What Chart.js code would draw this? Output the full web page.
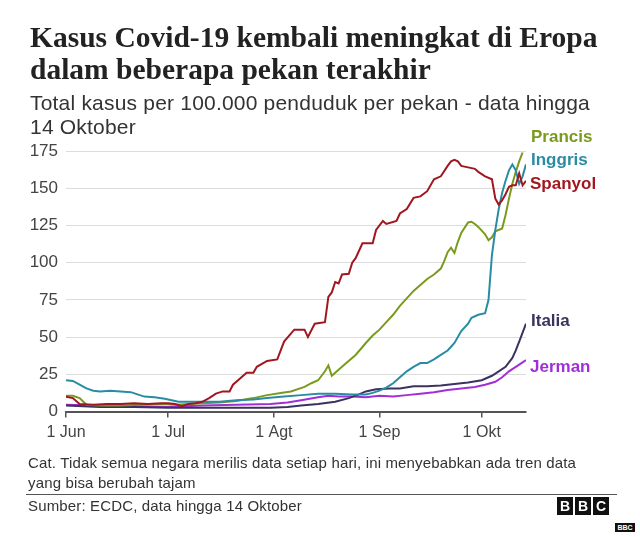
<!DOCTYPE html>
<html>
<head>
<meta charset="utf-8">
<script src="https://cdn.jsdelivr.net/npm/chart.js@4"></script>
<style>
  html, body { margin: 0; padding: 0; background: #fff; }
  #wrap { position: relative; width: 640px; height: 537px; overflow: hidden; font-family: "Liberation Sans", Arial, sans-serif; color: #222; }
  #chart { position: absolute; left: 0; top: 0; }
  .t { position: absolute; white-space: nowrap; }
  .title { left: 30px; font-family: "Liberation Serif", serif; font-weight: bold; font-size: 29.5px; color: #222; }
  .sub { left: 30px; font-size: 21px; letter-spacing: 0.2px; color: #333; }
  .lab { font-weight: bold; font-size: 17px; }
  .note { left: 28px; font-size: 15px; letter-spacing: 0.15px; color: #333; }
  .bbc { position: absolute; top: 497px; width: 16px; height: 18px; background: #111; color: #fff; font-weight: bold; font-size: 14px; text-align: center; line-height: 18px; }
</style>
</head>
<body>
<div id="wrap">
  <canvas id="chart" width="640" height="537"></canvas>
  <div class="t title" style="top:21px">Kasus Covid-19 kembali meningkat di Eropa</div>
  <div class="t title" style="top:53px">dalam beberapa pekan terakhir</div>
  <div class="t sub" style="top:91px">Total kasus per 100.000 penduduk per pekan - data hingga</div>
  <div class="t sub" style="top:115px">14 Oktober</div>

  <div class="t lab" style="left:531px;top:127px;color:#7a9a1e">Prancis</div>
  <div class="t lab" style="left:531px;top:150px;color:#2a8ca3">Inggris</div>
  <div class="t lab" style="left:530px;top:174px;color:#a0171f">Spanyol</div>
  <div class="t lab" style="left:531px;top:311px;color:#3c3260">Italia</div>
  <div class="t lab" style="left:530px;top:357px;color:#a12ed6">Jerman</div>

  <div class="t note" style="top:454px">Cat. Tidak semua negara merilis data setiap hari, ini menyebabkan ada tren data</div>
  <div class="t note" style="top:474px">yang bisa berubah tajam</div>
  <div style="position:absolute;left:26px;top:494px;width:591px;height:1px;background:#555"></div>
  <div class="t note" style="top:497px">Sumber: ECDC, data hingga 14 Oktober</div>
  <div class="bbc" style="left:557px">B</div>
  <div class="bbc" style="left:575px">B</div>
  <div class="bbc" style="left:593px">C</div>
  <div style="position:absolute;left:615px;top:523px;width:20px;height:9px;background:#111;color:#fff;font-size:7px;font-weight:bold;line-height:9px;text-align:center">BBC</div>
</div>

<script>
// days counted from 1 Jun (day 0) to 14 Okt (day 135)
const tickDays = [0, 30, 61, 92, 122];
const tickLabels = ['1 Jun', '1 Jul', '1 Agt', '1 Sep', '1 Okt'];

const spainDays = [0, 2, 4, 8, 12, 16, 20, 24, 28, 30, 32, 34, 36, 38, 40, 42, 44, 46, 48, 49, 51, 53, 55, 56, 59, 62, 64, 67, 70, 71, 73, 76, 77, 78, 79, 80, 81, 83, 84, 85, 87, 90, 91, 93, 94, 97, 98, 100, 102, 104, 106, 108, 110, 112, 113, 114, 115, 116, 118, 120, 121, 123, 125, 126, 127, 128, 129, 130, 131, 132, 133, 134, 135];
const spainVals = [10, 9, 5, 4.5, 5, 5, 5.5, 5, 5.5, 5.5, 5, 3.5, 5, 5.5, 6.5, 9, 12, 13.5, 13.5, 18, 22, 26, 26, 30, 34, 35, 47, 55, 55, 50, 59, 60, 77, 80, 87, 86, 92, 92.5, 100, 103, 113, 113, 122, 128, 126, 128, 133, 136, 143.5, 144.5, 148, 156, 158, 165, 168, 169, 168, 165, 164, 163, 161, 158, 156, 143, 139, 142, 146, 151, 152, 152, 160, 152, 155];

const franceDays = [0, 2, 4, 6, 10, 16, 22, 28, 32, 36, 40, 45, 50, 55, 59, 63, 66, 70, 72, 74, 76, 77, 78, 80, 82, 85, 88, 90, 92, 94, 96, 98, 100, 102, 104, 106, 108, 110, 111, 112, 113, 114, 115, 116, 118, 119, 120, 121, 123, 124, 125, 126, 128, 129, 130, 131, 132, 133, 134];
const franceVals = [10.5, 10.5, 9, 4.5, 4, 4, 4.5, 5, 4.5, 5, 5.5, 6, 7, 9, 11, 12.5, 13.5, 16.5, 19, 21, 27, 31, 24, 28, 32, 38, 46, 51, 55, 60, 65, 71, 76, 81, 85, 89, 92, 96, 101, 107, 110, 106.5, 114, 120, 127, 127.5, 126, 124, 119, 115, 117, 121, 123, 132, 143, 153, 161, 168, 174];

const ukDays = [0, 2, 4, 6, 8, 10, 13, 16, 19, 21, 23, 26, 29, 31, 33, 36, 40, 45, 50, 55, 59, 64, 69, 74, 79, 84, 88, 90, 92, 94, 96, 98, 100, 102, 104, 106, 108, 110, 112, 113, 114, 116, 118, 119, 121, 123, 124, 125, 126, 127, 128, 129, 130, 131, 132, 133, 134, 135];
const ukVals = [21, 20.5, 18, 15.5, 14, 13.5, 14, 13.5, 13, 11.5, 10, 9.5, 8.5, 7.5, 6.5, 6.5, 6.5, 6.5, 7.5, 8, 9, 10, 11, 12, 12, 11.5, 11.5, 12.5, 14, 16, 19, 23, 27, 30, 32.5, 32.5, 35, 38, 41, 43.5, 46, 54, 59, 63, 65, 66, 75, 105, 122, 136, 147, 155, 162, 166, 162, 153, 158, 166];

const italyDays = [0, 5, 10, 20, 30, 40, 50, 60, 65, 69, 74, 79, 83, 86, 88, 91, 95, 98, 102, 106, 110, 114, 118, 122, 125, 127, 129, 131, 132, 133, 134, 135];
const italyVals = [4, 3.5, 3, 3, 2.5, 2.5, 2.5, 2.5, 3, 4, 5, 6.5, 9, 11.5, 13.5, 15, 15.5, 15.5, 17, 17, 17.5, 18.5, 19.5, 21, 24, 27, 30, 36, 41, 47, 53, 59];

const germanyDays = [0, 10, 20, 30, 35, 40, 50, 60, 65, 69, 74, 77, 80, 84, 88, 92, 96, 100, 104, 108, 112, 116, 120, 123, 126, 128, 130, 132, 134, 135];
const germanyVals = [4.5, 4, 3.5, 3, 3.5, 4, 4.5, 5, 6, 7.5, 9.5, 10.5, 10, 10, 9.5, 10.5, 10, 11, 12, 13, 14.5, 15.5, 16.5, 18, 20, 23, 27, 30, 33, 34.5];

function pts(days, vals) {
  return days.map((d, i) => ({ x: d, y: vals[i] }));
}

function line(label, days, vals, color) {
  return {
    label: label,
    data: pts(days, vals),
    borderColor: color,
    borderWidth: 2,
    pointRadius: 0,
    tension: 0,
    fill: false
  };
}

const ctx = document.getElementById('chart').getContext('2d');
new Chart(ctx, {
  type: 'line',
  data: {
    datasets: [
      line('Spanyol', spainDays, spainVals, '#a0171f'),
      line('Inggris', ukDays, ukVals, '#2a8ca3'),
      line('Prancis', franceDays, franceVals, '#7a9a1e'),
      line('Italia', italyDays, italyVals, '#3c3260'),
      line('Jerman', germanyDays, germanyVals, '#a12ed6')
    ]
  },
  options: {
    responsive: false,
    animation: false,
    layout: {
      padding: { left: 0, top: 151, right: 114, bottom: 95.5 }
    },
    scales: {
      x: {
        type: 'linear',
        min: 0,
        max: 135,
        afterFit: (scale) => { scale.height = 30; },
        afterBuildTicks: (scale) => { scale.ticks = tickDays.map(v => ({ value: v })); },
        grid: { drawOnChartArea: false, drawTicks: true, tickLength: 6, color: '#555', lineWidth: 1.5 },
        border: { color: '#555', width: 2 },
        ticks: {
          autoSkip: false,
          maxRotation: 0,
          padding: 5,
          color: '#444',
          font: { family: 'Liberation Sans', size: 16 },
          callback: (v) => tickLabels[tickDays.indexOf(v)]
        }
      },
      y: {
        min: 0,
        max: 175,
        afterFit: (scale) => { scale.width = 66; },
        grid: { color: '#dcdcdc', lineWidth: 1, drawTicks: false },
        border: { display: false },
        ticks: {
          stepSize: 25,
          padding: 8,
          color: '#444',
          font: { family: 'Liberation Sans', size: 17 }
        }
      }
    },
    plugins: {
      legend: { display: false },
      tooltip: { enabled: false }
    }
  }
});
</script>
</body>
</html>
